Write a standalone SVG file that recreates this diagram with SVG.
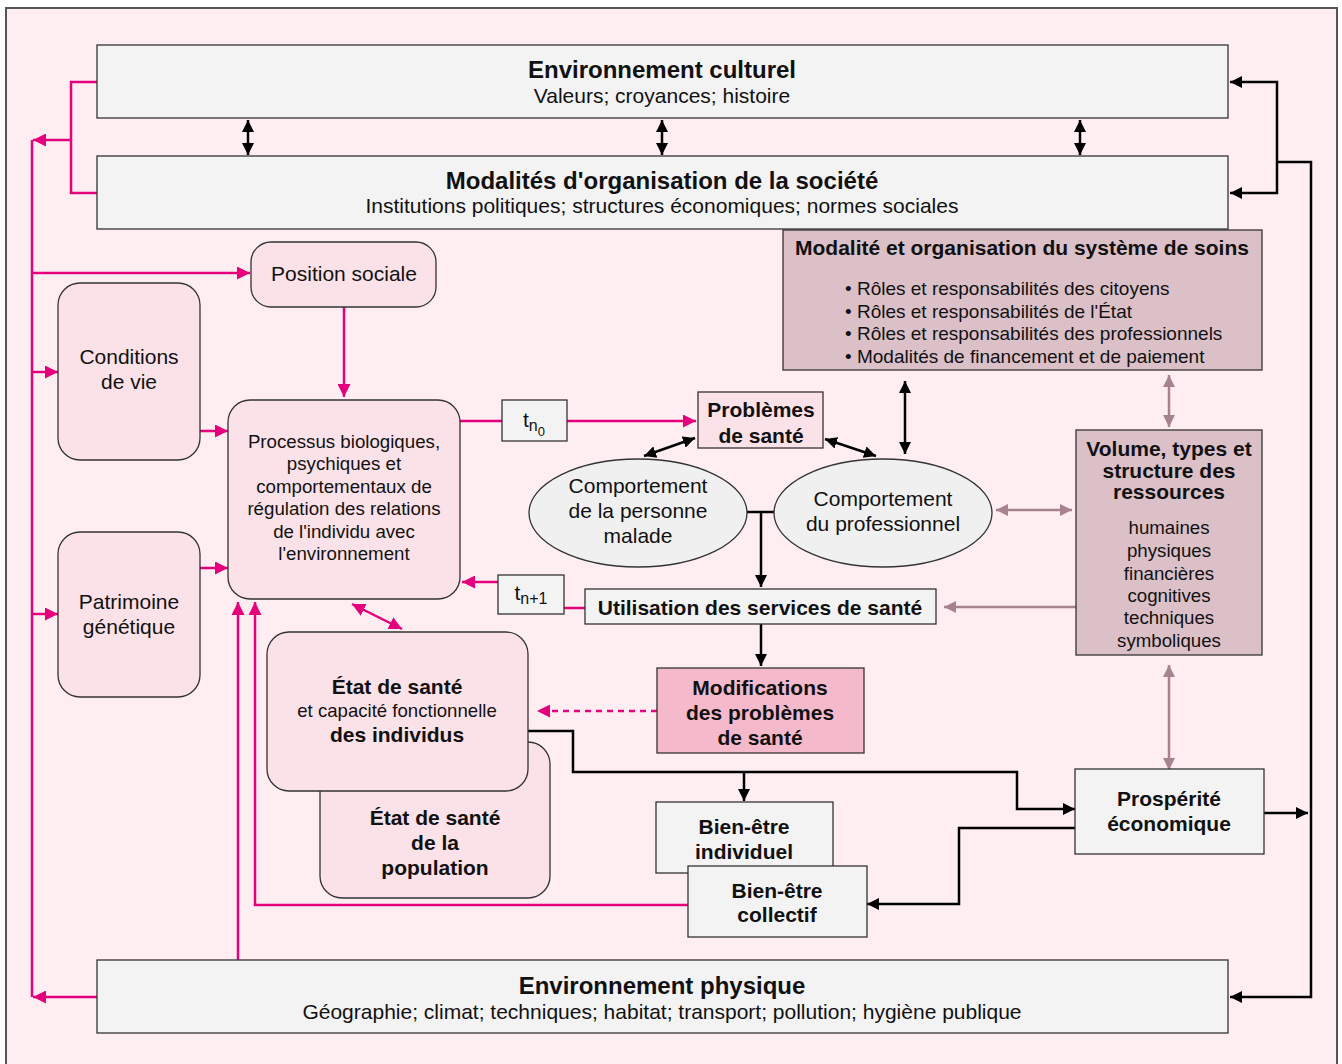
<svg xmlns="http://www.w3.org/2000/svg" width="1342" height="1064" viewBox="0 0 1342 1064">
<defs>
<style>
text{font-family:"Liberation Sans",Arial,sans-serif;fill:#111;text-anchor:middle}
.b{font-weight:bold}
.gray{fill:#f3f3f3;stroke:#333;stroke-width:1.3}
.pk{fill:#fbe1e8;stroke:#333;stroke-width:1.3}
.mv{fill:#dbc0c8;stroke:#333;stroke-width:1.3}
.pl{fill:none;stroke:#e4007c;stroke-width:2.5}
.bl{fill:none;stroke:#000;stroke-width:2.5}
.ml{fill:none;stroke:#a7838f;stroke-width:2.5}
</style>
<marker id="ap" viewBox="0 0 12 12" refX="12" refY="6" markerWidth="13" markerHeight="13" orient="auto-start-reverse" markerUnits="userSpaceOnUse"><path d="M0,0 L12,6 L0,12 z" fill="#e4007c"/></marker>
<marker id="ab" viewBox="0 0 12 12" refX="12" refY="6" markerWidth="12" markerHeight="12" orient="auto-start-reverse" markerUnits="userSpaceOnUse"><path d="M0,0 L12,6 L0,12 z" fill="#000"/></marker>
<marker id="am" viewBox="0 0 12 12" refX="12" refY="6" markerWidth="12" markerHeight="12" orient="auto-start-reverse" markerUnits="userSpaceOnUse"><path d="M0,0 L12,6 L0,12 z" fill="#a7838f"/></marker>
</defs>
<rect x="0" y="0" width="1342" height="1064" fill="#fff"/>
<rect x="6" y="8" width="1331" height="1070" fill="#ffeef1" stroke="#555" stroke-width="2"/>

<g id="connectors">
<!-- pink -->
<path class="pl" d="M97,82 H71 V193 H97"/>
<path class="pl" d="M71,140 H33" marker-end="url(#ap)"/>
<path class="pl" d="M32,140 V997"/>
<path class="pl" d="M97,997 H33" marker-end="url(#ap)"/>
<path class="pl" d="M32,273 H250" marker-end="url(#ap)"/>
<path class="pl" d="M32,372 H58" marker-end="url(#ap)"/>
<path class="pl" d="M32,614 H58" marker-end="url(#ap)"/>
<path class="pl" d="M344,307 V397" marker-end="url(#ap)"/>
<path class="pl" d="M200,431 H228" marker-end="url(#ap)"/>
<path class="pl" d="M200,568 H228" marker-end="url(#ap)"/>
<path class="pl" d="M460,421 H502"/>
<path class="pl" d="M567,421 H696" marker-end="url(#ap)"/>
<path class="pl" d="M585,608 H564"/>
<path class="pl" d="M498,582 H462" marker-end="url(#ap)"/>
<path class="pl" d="M352,604 L402,629" marker-start="url(#ap)" marker-end="url(#ap)"/>
<path class="pl" d="M238,960 V602" marker-end="url(#ap)"/>
<path class="pl" d="M688,905 H255 V602" marker-end="url(#ap)"/>
<path class="pl" d="M657,711 H537" stroke-dasharray="6,5" marker-end="url(#ap)"/>
<!-- black -->
<path class="bl" d="M248,120 V155" marker-start="url(#ab)" marker-end="url(#ab)"/>
<path class="bl" d="M662,120 V155" marker-start="url(#ab)" marker-end="url(#ab)"/>
<path class="bl" d="M1080,120 V155" marker-start="url(#ab)" marker-end="url(#ab)"/>
<path class="bl" d="M1230,82 H1277 V193 H1230" marker-start="url(#ab)" marker-end="url(#ab)"/>
<path class="bl" d="M1277,162 H1311 V997 H1230" marker-end="url(#ab)"/>
<path class="bl" d="M1264,813 H1308" marker-end="url(#ab)"/>
<path class="bl" d="M905,381 V454" marker-start="url(#ab)" marker-end="url(#ab)"/>
<path class="bl" d="M695,438 L644,456" marker-start="url(#ab)" marker-end="url(#ab)"/>
<path class="bl" d="M825,439 L876,456" marker-start="url(#ab)" marker-end="url(#ab)"/>
<path class="bl" d="M726,512 H795" marker-start="url(#ab)" marker-end="url(#ab)"/>
<path class="bl" d="M761,512 V587" marker-end="url(#ab)"/>
<path class="bl" d="M761,624 V666" marker-end="url(#ab)"/>
<path class="bl" d="M528,731 H573 V772 H1017 V809 H1075" marker-end="url(#ab)"/>
<path class="bl" d="M744,772 V801" marker-end="url(#ab)"/>
<path class="bl" d="M1075,828 H959 V904 H867" marker-end="url(#ab)"/>
<!-- mauve -->
<path class="ml" d="M1169,375 V427" marker-start="url(#am)" marker-end="url(#am)"/>
<path class="ml" d="M996,510 H1072" marker-start="url(#am)" marker-end="url(#am)"/>
<path class="ml" d="M1076,607 H944" marker-end="url(#am)"/>
<path class="ml" d="M1169,665 V770" marker-start="url(#am)" marker-end="url(#am)"/>
</g>

<g id="culturel">
<rect class="gray" x="97" y="45" width="1131" height="73"/>
<text class="b" x="662" y="77.5" font-size="24">Environnement culturel</text>
<text x="662" y="102.5" font-size="21">Valeurs; croyances; histoire</text>
</g>
<g id="organisation">
<rect class="gray" x="97" y="156" width="1131" height="73"/>
<text class="b" x="662" y="188.5" font-size="24">Modalités d'organisation de la société</text>
<text x="662" y="212.5" font-size="21">Institutions politiques; structures économiques; normes sociales</text>
</g>
<g id="soins">
<rect class="mv" x="783" y="230" width="479" height="140"/>
<text class="b" x="1022" y="254.5" font-size="21">Modalité et organisation du système de soins</text>
<g font-size="19">
<text x="845" y="294.5" style="text-anchor:start">• Rôles et responsabilités des citoyens</text>
<text x="845" y="317.5" style="text-anchor:start">• Rôles et responsabilités de l'État</text>
<text x="845" y="339.5" style="text-anchor:start">• Rôles et responsabilités des professionnels</text>
<text x="845" y="362.5" style="text-anchor:start">• Modalités de financement et de paiement</text>
</g>
</g>
<g id="position">
<rect class="pk" x="251" y="242" width="185" height="65" rx="20"/>
<text x="344" y="280.5" font-size="21">Position sociale</text>
</g>
<g id="conditions">
<rect class="pk" x="58" y="283" width="142" height="177" rx="22"/>
<text x="129" y="363.5" font-size="21">Conditions</text>
<text x="129" y="388.5" font-size="21">de vie</text>
</g>
<g id="patrimoine">
<rect class="pk" x="58" y="532" width="142" height="165" rx="22"/>
<text x="129" y="608.5" font-size="21">Patrimoine</text>
<text x="129" y="633.5" font-size="21">génétique</text>
</g>
<g id="processus">
<rect class="pk" x="228" y="400" width="232" height="199" rx="22"/>
<g font-size="18.7">
<text x="344" y="447.5">Processus biologiques,</text>
<text x="344" y="469.5">psychiques et</text>
<text x="344" y="492.5">comportementaux de</text>
<text x="344" y="514.5">régulation des relations</text>
<text x="344" y="537.5">de l'individu avec</text>
<text x="344" y="559.5">l'environnement</text>
</g>
</g>
<g id="tn0">
<rect class="gray" x="502" y="400" width="65" height="41"/>
<text x="534" y="427" font-size="21">t<tspan font-size="16" dy="4">n</tspan><tspan font-size="13" dy="5">0</tspan></text>
</g>
<g id="tn1">
<rect class="gray" x="498" y="575" width="66" height="39"/>
<text x="531" y="600" font-size="21">t<tspan font-size="16" dy="4">n+1</tspan></text>
</g>
<g id="problemes">
<rect class="pk" x="698" y="392" width="125" height="56"/>
<text class="b" x="761" y="416.5" font-size="21">Problèmes</text>
<text class="b" x="761" y="442.5" font-size="21">de santé</text>
</g>
<g id="personne">
<ellipse cx="638" cy="513" rx="109" ry="54" fill="#f0f0f0" stroke="#333" stroke-width="1.3"/>
<text x="638" y="492.5" font-size="21">Comportement</text>
<text x="638" y="517.5" font-size="21">de la personne</text>
<text x="638" y="542.5" font-size="21">malade</text>
</g>
<g id="professionnel">
<ellipse cx="883" cy="513" rx="109" ry="54" fill="#f0f0f0" stroke="#333" stroke-width="1.3"/>
<text x="883" y="505.5" font-size="21">Comportement</text>
<text x="883" y="530.5" font-size="21">du professionnel</text>
</g>
<g id="ressources">
<rect class="mv" x="1076" y="430" width="186" height="225"/>
<text class="b" x="1169" y="455.5" font-size="21">Volume, types et</text>
<text class="b" x="1169" y="477.5" font-size="21">structure des</text>
<text class="b" x="1169" y="498.5" font-size="21">ressources</text>
<g font-size="18.7">
<text x="1169" y="533.5">humaines</text>
<text x="1169" y="556.5">physiques</text>
<text x="1169" y="579.5">financières</text>
<text x="1169" y="601.5">cognitives</text>
<text x="1169" y="623.5">techniques</text>
<text x="1169" y="646.5">symboliques</text>
</g>
</g>
<g id="utilisation">
<rect class="gray" x="585" y="589" width="351" height="35"/>
<text class="b" x="760" y="614.5" font-size="21">Utilisation des services de santé</text>
</g>
<g id="modifications">
<rect x="657" y="668" width="207" height="85" fill="#f5b9cc" stroke="#333" stroke-width="1.3"/>
<text class="b" x="760" y="694.5" font-size="21">Modifications</text>
<text class="b" x="760" y="719.5" font-size="21">des problèmes</text>
<text class="b" x="760" y="744.5" font-size="21">de santé</text>
</g>
<g id="population">
<rect class="pk" x="320" y="742" width="230" height="156" rx="22"/>
<text class="b" x="435" y="824.5" font-size="21">État de santé</text>
<text class="b" x="435" y="849.5" font-size="21">de la</text>
<text class="b" x="435" y="874.5" font-size="21">population</text>
</g>
<g id="individus">
<rect class="pk" x="267" y="632" width="261" height="159" rx="22"/>
<text class="b" x="397" y="693.5" font-size="21">État de santé</text>
<text x="397" y="716.5" font-size="18.6">et capacité fonctionnelle</text>
<text class="b" x="397" y="741.5" font-size="21">des individus</text>
</g>
<g id="individuel">
<rect class="gray" x="656" y="802" width="177" height="71"/>
<text class="b" x="744" y="833.5" font-size="21">Bien-être</text>
<text class="b" x="744" y="858.5" font-size="21">individuel</text>
</g>
<g id="collectif">
<rect class="gray" x="688" y="866" width="179" height="71"/>
<text class="b" x="777" y="897.5" font-size="21">Bien-être</text>
<text class="b" x="777" y="921.5" font-size="21">collectif</text>
</g>
<g id="prosperite">
<rect class="gray" x="1075" y="769" width="189" height="85"/>
<text class="b" x="1169" y="805.5" font-size="21">Prospérité</text>
<text class="b" x="1169" y="830.5" font-size="21">économique</text>
</g>
<g id="physique">
<rect class="gray" x="97" y="960" width="1131" height="73"/>
<text class="b" x="662" y="993.5" font-size="24">Environnement physique</text>
<text x="662" y="1018.5" font-size="21">Géographie; climat; techniques; habitat; transport; pollution; hygiène publique</text>
</g>
</svg>
